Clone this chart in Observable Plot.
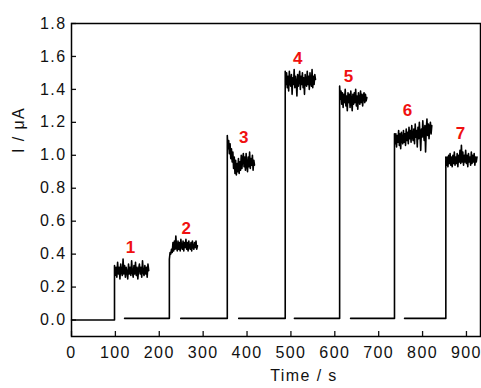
<!DOCTYPE html>
<html><head><meta charset="utf-8">
<script src="https://cdn.jsdelivr.net/npm/d3@7"></script>
<script src="https://cdn.jsdelivr.net/npm/@observablehq/plot@0.6"></script>
<style>body{margin:0;background:#fff} svg{display:block}</style>
</head><body><div id="chart"></div>
<script>
// Segment timing (s) and baseline level (µA)
const baseStart  = [0, 121, 249, 381, 508, 636, 759];
const riseTime   = [98, 223, 355, 487, 611, 736, 853];
const plateauEnd = [176, 287, 417, 556, 673, 821, 924];
const baseLevel  = [0.0, 0.01, 0.01, 0.01, 0.01, 0.01, 0.01];

// Plateau current values (µA)
const p1 = [0.33,0.27,0.32,0.26,0.35,0.28,0.32,0.25,0.34,0.29,0.27,0.37,0.28,0.33,0.26,0.32,0.29,0.25,0.34,0.28,0.32,0.27,0.36,0.29,0.26,0.33,0.28,0.35,0.27,0.32,0.25,0.31,0.34,0.28,0.32,0.26,0.36,0.29,0.27,0.33,0.28,0.32,0.26,0.34,0.30];
const p2 = [0.37,0.41,0.40,0.43,0.41,0.47,0.42,0.48,0.43,0.51,0.44,0.42,0.48,0.43,0.47,0.42,0.49,0.44,0.43,0.48,0.42,0.47,0.44,0.49,0.43,0.47,0.42,0.48,0.44,0.43,0.47,0.42,0.48,0.44,0.43,0.47,0.44,0.48,0.43,0.45];
const p3 = [1.12,1.04,1.09,1.01,1.07,0.98,1.04,0.96,1.02,0.92,0.99,0.89,0.97,0.88,0.95,0.90,0.98,0.89,0.96,0.91,1.00,0.92,0.98,1.01,0.93,0.99,0.91,1.01,0.94,0.90,0.99,0.93,1.02,0.92,0.98,0.94,1.00,0.91,0.97,0.94];
const p4 = [1.51,1.43,1.50,1.41,1.48,1.39,1.51,1.44,1.42,1.49,1.37,1.47,1.43,1.52,1.41,1.48,1.44,1.36,1.49,1.42,1.47,1.51,1.40,1.48,1.43,1.50,1.41,1.47,1.37,1.49,1.44,1.42,1.51,1.43,1.48,1.40,1.50,1.44,1.42,1.52,1.41,1.48,1.43,1.49,1.46];
const p5 = [1.42,1.34,1.39,1.31,1.38,1.29,1.37,1.32,1.40,1.30,1.36,1.27,1.38,1.32,1.37,1.29,1.39,1.33,1.27,1.37,1.31,1.38,1.32,1.40,1.30,1.36,1.28,1.38,1.33,1.31,1.39,1.32,1.37,1.30,1.36,1.38,1.32,1.37,1.33,1.35];
const p6 = [1.13,1.07,1.13,1.05,1.12,1.08,1.15,1.06,1.13,1.04,1.14,1.09,1.07,1.15,1.08,1.13,1.06,1.16,1.09,1.14,1.07,1.17,1.10,1.15,1.08,1.18,1.11,1.09,1.16,1.07,1.19,1.11,1.15,1.05,1.17,1.10,1.20,1.12,1.03,1.16,1.11,1.21,1.13,1.09,1.18,1.02,1.16,1.22,1.12,1.19,1.10,1.17,1.20,1.13,1.18];
const p7 = [0.99,0.94,0.99,0.93,1.00,0.95,1.01,0.94,0.99,0.93,1.00,0.95,1.02,0.94,0.99,0.95,1.01,0.93,1.00,0.96,1.03,0.95,1.06,0.96,1.02,0.94,1.00,0.96,1.03,0.95,1.00,0.93,1.01,0.96,0.99,0.94,1.02,0.95,1.00,0.96,1.01,0.94,0.99,0.96,0.99];
const plateaus = [p1, p2, p3, p4, p5, p6, p7];

// Annotation labels
const labelText = ["1", "2", "3", "4", "5", "6", "7"];
const labelT = [136, 263, 394, 517, 633, 767, 888];
const labelV = [0.44, 0.555, 1.11, 1.585, 1.48, 1.27, 1.13];

// Axis ticks
const xTicks = [0, 100, 200, 300, 400, 500, 600, 700, 800, 900];
const yTicks = [0.0, 0.2, 0.4, 0.6, 0.8, 1.0, 1.2, 1.4, 1.6, 1.8];

// Build the trace table
const trace = [];
plateaus.forEach((vals, i) => {
  trace.push({seg: i, t: baseStart[i], v: baseLevel[i]});
  trace.push({seg: i, t: riseTime[i], v: baseLevel[i]});
  const n = vals.length;
  vals.forEach((v, k) => {
    trace.push({seg: i, t: riseTime[i] + k * (plateauEnd[i] - riseTime[i]) / (n - 1), v});
  });
});
const labels = labelText.map((s, i) => ({s, t: labelT[i], v: labelV[i]}));

const chart = Plot.plot({
  width: 481, height: 388,
  marginLeft: 71, marginRight: 1, marginTop: 23, marginBottom: 52,
  style: {fontFamily: "'Liberation Sans', Arial, sans-serif", fontSize: "16px", color: "#111", background: "#fff", overflow: "visible", letterSpacing: "1.4px"},
  x: {domain: [0, 932]},
  y: {domain: [-0.1, 1.8]},
  marks: [
    Plot.axisX(xTicks, {tickSize: -5, tickPadding: 15.6, strokeWidth: 1.3, stroke: "#111", label: null}),
    Plot.axisY(yTicks, {tickSize: -5, tickPadding: 10, strokeWidth: 1.3, stroke: "#111", label: null, tickFormat: d => d.toFixed(1)}),
    Plot.line(trace, {x: "t", y: "v", z: "seg", stroke: "#000", strokeWidth: 1.6}),
    Plot.text(labels, {x: "t", y: "v", text: "s", fill: "#f01010", fontWeight: "bold", fontSize: 17}),
    Plot.text(["Time / s"], {frameAnchor: "bottom", dx: 28, dy: 44, fontSize: 16, fill: "#111"}),
    Plot.text(["I / μA"], {frameAnchor: "left", rotate: -90, dx: -53, dy: -27, fontSize: 16, fill: "#111"}),
    Plot.frame({stroke: "#000", strokeWidth: 1.5})
  ]
});
document.getElementById("chart").appendChild(chart);
</script>
</body></html>
